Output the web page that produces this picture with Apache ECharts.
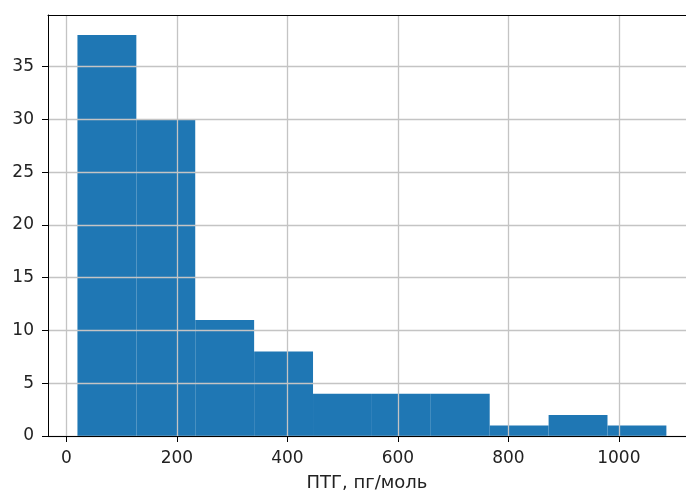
<!DOCTYPE html>
<html>
<head>
<meta charset="utf-8">
<script src="https://cdn.jsdelivr.net/npm/echarts@6/dist/echarts.min.js"></script>
<style>html,body{margin:0;padding:0;background:#fff;overflow:hidden;width:686px;height:497px;}#c{width:700px;height:497px;}</style>
</head>
<body>
<div id="c"></div>
<script>
// Histogram bins (edges) and counts
const binEdges = [20, 126.6, 233.2, 339.8, 446.4, 553, 659.6, 766.2, 872.8, 979.4, 1086];
const counts = [38, 30, 11, 8, 4, 4, 4, 1, 2, 1];
const xTickValues = [0, 200, 400, 600, 800, 1000];
const yTickValues = [0, 5, 10, 15, 20, 25, 30, 35];
const xLabel = 'ПТГ, пг/моль';

const xMin = -33.3, xMax = 1139.6, yMax = 39.9;
const font = 'DejaVu Sans';
const textColor = '#222';

const histData = counts.map((c, i) => [binEdges[i], binEdges[i + 1], c]);

const chart = echarts.init(document.getElementById('c'), null, {renderer: 'canvas'});
chart.setOption({
  animation: false,
  backgroundColor: '#fff',
  grid: {left: 48, top: 15, right: 4, bottom: 60, containLabel: false},
  xAxis: [{
    type: 'value', min: xMin, max: xMax, z: 3,
    name: xLabel, nameLocation: 'middle', nameGap: 38,
    nameTextStyle: {fontFamily: font, fontSize: 18, color: textColor, padding: [0, 10, 0, 0]},
    axisLine: {show: true, onZero: false, lineStyle: {color: '#000', width: 1}},
    axisTick: {show: true, length: 6, lineStyle: {color: '#000', width: 1},
      customValues: xTickValues},
    axisLabel: {fontFamily: font, fontSize: 17, color: textColor, margin: 14,
      customValues: xTickValues,
      formatter: v => (xTickValues.indexOf(Math.round(v)) >= 0 && Math.abs(v - Math.round(v)) < 1e-6) ? String(Math.round(v)) : ''},
    splitLine: {show: true, lineStyle: {color: '#c4c4c4', width: 1.3}}
  }, {
    type: 'value', position: 'top', min: xMin, max: xMax, z: 3,
    axisLine: {show: true, onZero: false, lineStyle: {color: '#000', width: 1}},
    axisTick: {show: false}, axisLabel: {show: false}, splitLine: {show: false}
  }],
  yAxis: [{
    type: 'value', min: 0, max: yMax, interval: 5, z: 3,
    axisLine: {show: true, onZero: false, lineStyle: {color: '#000', width: 1}},
    axisTick: {show: true, length: 6, lineStyle: {color: '#000', width: 1},
      customValues: yTickValues},
    axisLabel: {fontFamily: font, fontSize: 17, color: textColor, margin: 14,
      customValues: yTickValues,
      formatter: v => (yTickValues.indexOf(v) >= 0) ? String(v) : ''},
    splitLine: {show: true, lineStyle: {color: '#c4c4c4', width: 1.3}}
  }, {
    type: 'value', position: 'right', min: 0, max: yMax, z: 3,
    axisLine: {show: true, onZero: false, lineStyle: {color: '#000', width: 1}},
    axisTick: {show: false}, axisLabel: {show: false}, splitLine: {show: false}
  }],
  series: [{
    type: 'custom',
    xAxisIndex: 0, yAxisIndex: 0,
    z: 2,
    data: histData,
    encode: {x: [0, 1], y: 2},
    renderItem: function (params, api) {
      const p0 = api.coord([api.value(0), 0]);
      const p1 = api.coord([api.value(1), api.value(2)]);
      return {
        type: 'rect',
        shape: {x: p0[0], y: p1[1], width: p1[0] - p0[0], height: p0[1] - p1[1]},
        style: {fill: '#1f77b4'}
      };
    }
  }]
});
</script>
</body>
</html>
